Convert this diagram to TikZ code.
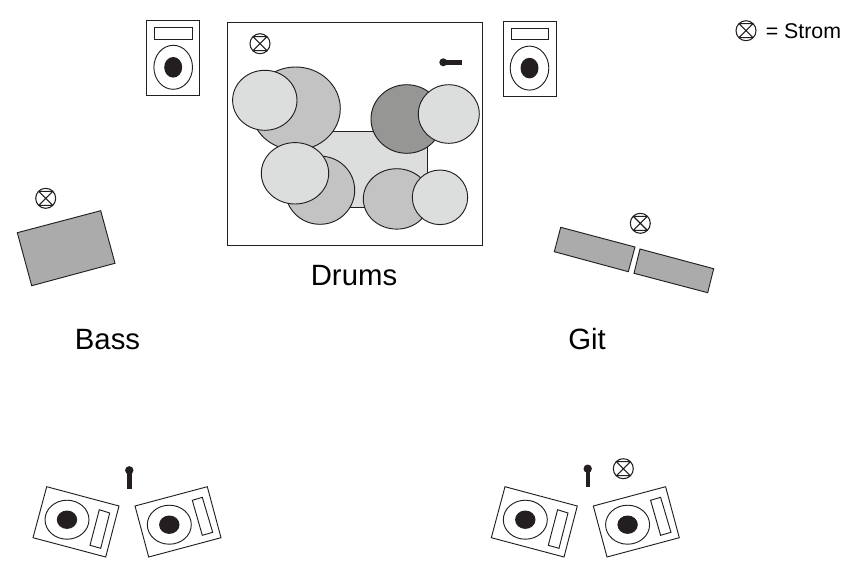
\documentclass[tikz,border=0pt]{standalone}
\usepackage{fontspec}
\setmainfont{Liberation Sans}
\definecolor{ink}{HTML}{231F20}
\definecolor{lightdrum}{HTML}{DCDDDD}
\definecolor{middrum}{HTML}{C2C3C2}
\definecolor{darkdrum}{HTML}{969695}
\definecolor{amp}{HTML}{AAABAA}
\tikzset{
  x=0.75pt,y=-0.75pt,
  outline/.style={draw=ink,line width=0.7pt,line join=miter},
  light/.style={outline,fill=lightdrum},
  mid/.style={outline,fill=middrum},
  dark/.style={outline,fill=darkdrum},
  ampbox/.style={outline,fill=amp},
  solid ink/.style={fill=ink,draw=none},
  label/.style={font=\fontsize{22}{26}\selectfont,text=black,inner sep=0pt},
  small label/.style={font=\fontsize{16}{19}\selectfont,text=black,inner sep=0pt},
  strom/.pic={
    \draw[ink,line width=0.8pt] (0,0) circle[radius=10];
    \draw[ink,line width=0.8pt] (-7,-7) -- (7,7) (7,-7) -- (-7,7) (-7,-7) -- (7,-7) (-7,7) -- (7,7);
  },
  speaker/.pic={
    \draw[outline,fill=white] (-26.5,-37.7) rectangle (26.5,37.7);
    \draw[outline] (-18.5,-30.5) rectangle (19.2,-19);
    \draw[outline] (0,9.3) ellipse[x radius=19.3,y radius=22];
    \fill[solid ink] (0,9.3) ellipse[x radius=9,y radius=10.3];
  }
}
\newcommand{\wedgeL}[2]{%
  \begin{scope}[shift={(#1,#2)}]
    \draw[outline] (46.7,46.7) -- (119,66) -- (105.7,117) -- (33,97.7) -- cycle;
    \draw[outline] (67,79.7) ellipse[x radius=22,y radius=19.5];
    \fill[solid ink] (67,79.7) ellipse[x radius=10.2,y radius=9.2];
    \draw[outline] (99.3,69.7) -- (109.7,73) -- (100.7,108.3) -- (90,105.3) -- cycle;
  \end{scope}}
\newcommand{\wedgeR}[2]{%
  \begin{scope}[shift={(#1,#2)}]
    \draw[outline] (135,66) -- (207.3,46.7) -- (221,97.7) -- (148.7,117) -- cycle;
    \draw[outline] (169.3,84.7) ellipse[x radius=22,y radius=19.5];
    \fill[solid ink] (169.3,84.7) ellipse[x radius=10.2,y radius=9.2];
    \draw[outline] (192.3,60.3) -- (202.3,57.3) -- (212.7,92.3) -- (202.3,95.3) -- cycle;
  \end{scope}}
\begin{document}
\begin{tikzpicture}
\useasboundingbox (0,0) rectangle (849,572);
% drum riser
\draw[outline,fill=white] (227,22.7) rectangle (482.7,245);
\draw[outline,fill=lightdrum] (300,131.3) rectangle (427.3,207);
% drums
\draw[mid] (295.7,108.5) ellipse[x radius=44.6,y radius=41.5];
\draw[light] (264.8,100.3) ellipse[x radius=32.2,y radius=30];
\draw[mid] (320,190.2) ellipse[x radius=34.7,y radius=34.1];
\draw[light] (295,173.3) ellipse[x radius=33.7,y radius=30.7];
\draw[dark] (406.7,119) ellipse[x radius=35.7,y radius=34.3];
\draw[light] (448.8,114) ellipse[x radius=30.5,y radius=29.3];
\draw[mid] (396.7,198.9) ellipse[x radius=33.4,y radius=30.2];
\draw[light] (440,197.3) ellipse[x radius=27.7,y radius=27.3];
% drum mic
\fill[solid ink] (443.3,62.3) circle[radius=4];
\fill[solid ink] (443.3,60) rectangle (461.7,64.7);
% speakers
\pic at (173.2,58) {speaker};
\pic at (529.5,58.8) {speaker};
% power symbols
\pic at (260,43.7) {strom};
\pic at (45.7,198.3) {strom};
\pic at (640.3,223.3) {strom};
\pic at (623.3,468.7) {strom};
\pic at (746,30.7) {strom};
% amps
\draw[ampbox] (17.3,232.7) -- (100.7,210.7) -- (115,263.3) -- (31.7,285.7) -- cycle;
\draw[ampbox] (560.7,227.3) -- (635,247) -- (628.3,271.7) -- (554.3,251.7) -- cycle;
\draw[ampbox] (640,249) -- (713.7,268.7) -- (707.7,292.7) -- (634,273.3) -- cycle;
% floor monitors
\wedgeL{0}{440}
\wedgeR{0}{440}
\wedgeL{458.3}{440}
\wedgeR{458.3}{440}
% vocal mics
\fill[solid ink] (129.3,470.3) circle[radius=4.2];
\fill[solid ink] (127,470.3) rectangle (132,488.7);
\fill[solid ink] (587.7,468.7) circle[radius=4.2];
\fill[solid ink] (585.6,468.7) rectangle (589.9,486.7);
% labels
\node[label] (drums) at (354,275.5) {Drums};
\node[label] (bass) at (107.5,339.5) {Bass};
\node[label] (git) at (587,339.5) {Git};
\node[small label,anchor=west] (legend) at (765.5,31.5) {= Strom};
\end{tikzpicture}
\end{document}
